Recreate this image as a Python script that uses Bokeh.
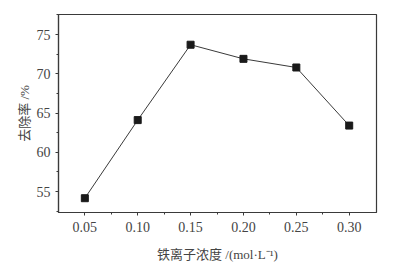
from bokeh.plotting import figure
from bokeh.embed import file_html
from bokeh.resources import INLINE
from bokeh.models import FixedTicker, Range1d

conc = [0.05, 0.10, 0.15, 0.20, 0.25, 0.30]
removal = [54.15, 64.1, 73.7, 71.9, 70.8, 63.4]
x_ticks = [0.05, 0.10, 0.15, 0.20, 0.25, 0.30]
x_tick_labels = ["0.05", "0.10", "0.15", "0.20", "0.25", "0.30"]
y_ticks = [55, 60, 65, 70, 75]

p = figure(width=407, height=266, output_backend="svg", toolbar_location=None,
           x_range=Range1d(0.0251, 0.3258), y_range=Range1d(52.33, 77.55),
           min_border_left=58, min_border_right=31, min_border_top=14, min_border_bottom=54)
p.background_fill_color = "white"
p.border_fill_color = "white"
p.outline_line_color = "#3a3a3a"
p.outline_line_width = 1.2
p.grid.visible = False

p.line(conc, removal, line_color="#3a3a3a", line_width=1)
p.scatter(conc, removal, marker="square", size=7, fill_color="#1a1a1a", line_color="#1a1a1a")

p.xaxis.ticker = FixedTicker(ticks=x_ticks, minor_ticks=[0.075, 0.125, 0.175, 0.225, 0.275])
p.xaxis.major_label_overrides = {t: l for t, l in zip(x_ticks, x_tick_labels)}
p.yaxis.ticker = FixedTicker(ticks=y_ticks, minor_ticks=[52.5, 57.5, 62.5, 67.5, 72.5, 77.5])

serif = "'Liberation Serif', 'Noto Sans CJK SC', serif"
for ax in (p.xaxis, p.yaxis):
    ax.axis_line_color = "#3a3a3a"
    ax.axis_line_width = 1.2
    ax.major_tick_line_color = "#3a3a3a"
    ax.minor_tick_line_color = "#3a3a3a"
    ax.major_tick_out = 3
    ax.major_tick_in = 0
    ax.minor_tick_out = 2
    ax.minor_tick_in = 0
    ax.major_label_text_font = serif
    ax.major_label_text_font_size = "14px"
    ax.major_label_text_color = "#444444"
    ax.axis_label_text_font = serif
    ax.axis_label_text_font_size = "13px"
    ax.axis_label_text_color = "#444444"
    ax.axis_label_text_font_style = "normal"

p.xaxis.axis_label = "铁离子浓度 /(mol·L⁻¹)"
p.yaxis.axis_label = "去除率 /%"
p.xaxis.major_label_standoff = 6
p.xaxis.axis_label_standoff = 12
p.yaxis.major_label_standoff = 5
p.yaxis.axis_label_standoff = 2

open("out.html", "w").write(file_html(p, INLINE))
